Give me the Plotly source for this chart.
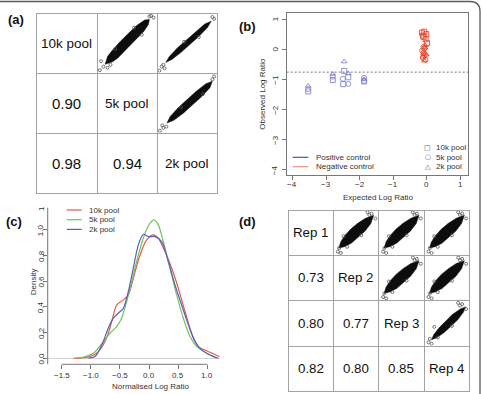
import plotly.graph_objects as go

W, H = 482, 394
FONT = "Liberation Sans, Arial, Helvetica, sans-serif"

# ---------------- data ----------------
# panel (a): pairs of pools
POOL_NAMES = ["10k pool", "5k pool", "2k pool"]
POOL_CORR_ROW = [1, 2, 2]
POOL_CORR_COL = [0, 0, 1]
POOL_CORR_VAL = [0.90, 0.98, 0.94]

# point-cloud outlines (fraction of panel range)
A01_U = [0.13, 0.17, 0.23, 0.37, 0.52, 0.67, 0.80, 0.88, 0.86, 0.78, 0.63, 0.49, 0.34, 0.25]
A01_V = [0.14, 0.27, 0.35, 0.51, 0.66, 0.80, 0.89, 0.90, 0.81, 0.69, 0.54, 0.39, 0.24, 0.18]
A02_U = [0.14, 0.20, 0.34, 0.49, 0.64, 0.80, 0.91, 0.85, 0.71, 0.56, 0.41, 0.25]
A02_V = [0.17, 0.27, 0.42, 0.555, 0.69, 0.82, 0.87, 0.765, 0.62, 0.485, 0.35, 0.225]
A12_U = [0.16, 0.215, 0.353, 0.505, 0.657, 0.82, 0.93, 0.888, 0.747, 0.595, 0.443, 0.277]
A12_V = [0.16, 0.27, 0.422, 0.56, 0.698, 0.825, 0.87, 0.757, 0.608, 0.47, 0.332, 0.208]
A01_OUT_U = [0.04, 0.06, 0.22, 0.10, 0.91, 0.95, 0.88, 0.17, 0.30, 0.62, 0.75]
A01_OUT_V = [0.04, 0.19, 0.13, 0.10, 0.96, 0.93, 0.95, 0.08, 0.40, 0.76, 0.64]
A02_OUT_U = [0.03, 0.07, 0.10, 0.93, 0.96, 0.12, 0.45, 0.70]
A02_OUT_V = [0.03, 0.10, 0.13, 0.94, 0.91, 0.07, 0.52, 0.60]
A12_OUT_U = [0.04, 0.10, 0.15, 0.96, 0.93, 0.08, 0.40, 0.77]
A12_OUT_V = [0.03, 0.08, 0.10, 0.95, 0.90, 0.12, 0.43, 0.65]

# panel (b): expected vs observed log ratio
POS_10K_X = [-3.53, -2.80, -2.46, -2.49, -2.34, -1.87]
POS_10K_Y = [-1.40, -1.02, -0.72, -1.16, -0.93, -1.07]
POS_5K_X = [-3.53, -2.80, -2.50, -2.34, -1.87, -1.87]
POS_5K_Y = [-1.32, -0.91, -0.98, -1.15, -0.95, -1.05]
POS_2K_X = [-3.53, -2.80, -2.46, -2.34, -1.87]
POS_2K_Y = [-1.22, -0.82, -0.41, -0.80, -1.00]
NEG_10K_X = [-0.15, -0.08, -0.12, -0.02, -0.10, -0.04, 0.00]
NEG_10K_Y = [0.55, 0.58, 0.45, 0.50, 0.40, 0.33, 0.20]
NEG_5K_X = [-0.14, -0.10, -0.06, -0.12, -0.08, -0.04, -0.10]
NEG_5K_Y = [-0.05, -0.12, -0.20, -0.28, 0.02, -0.35, 0.08]
NEG_2K_X = [-0.10, -0.06, -0.12, -0.02, -0.08, -0.05]
NEG_2K_Y = [-0.15, 0.05, -0.25, -0.18, -0.38, 0.12]
CUTOFF = -0.76
B_TICKS = [-4, -3, -2, -1, 0, 1]
B_LINE_LABELS = ["Positive control", "Negative control"]

# panel (c): densities of normalised log ratio
D10_X = [-1.30, -1.01, -0.87, -0.73, -0.64, -0.555, -0.44, -0.355, -0.27, -0.154, -0.04, 0.075, 0.16, 0.275, 0.39, 0.504, 0.619, 0.733, 0.848, 0.99, 1.105, 1.22]
D10_Y = [0.0, 0.013, 0.052, 0.156, 0.286, 0.415, 0.455, 0.494, 0.623, 0.805, 0.922, 0.961, 0.935, 0.831, 0.701, 0.545, 0.364, 0.195, 0.091, 0.058, 0.035, 0.01]
D5_X = [-1.19, -0.956, -0.785, -0.67, -0.555, -0.47, -0.383, -0.297, -0.183, -0.068, 0.018, 0.086, 0.16, 0.246, 0.36, 0.475, 0.59, 0.705, 0.82, 0.99, 1.163]
D5_Y = [0.0, 0.039, 0.13, 0.195, 0.247, 0.312, 0.442, 0.597, 0.805, 0.974, 1.052, 1.078, 1.039, 0.909, 0.701, 0.494, 0.312, 0.169, 0.091, 0.039, 0.0]
D2_X = [-1.04, -0.927, -0.81, -0.70, -0.613, -0.527, -0.44, -0.355, -0.27, -0.183, -0.097, -0.011, 0.103, 0.218, 0.332, 0.447, 0.561, 0.676, 0.79, 0.905, 1.048, 1.19]
D2_Y = [0.0, 0.013, 0.104, 0.234, 0.312, 0.351, 0.39, 0.52, 0.701, 0.883, 0.966, 0.948, 0.948, 0.909, 0.753, 0.571, 0.415, 0.26, 0.13, 0.065, 0.026, 0.0]
C_XTICKS = [-1.5, -1.0, -0.5, 0.0, 0.5, 1.0]
C_YTICKS = [0.0, 0.2, 0.4, 0.6, 0.8, 1.0]

# panel (d): replicates
REP_NAMES = ["Rep 1", "Rep 2", "Rep 3", "Rep 4"]
REP_CORR_ROW = [1, 2, 2, 3, 3, 3]
REP_CORR_COL = [0, 0, 1, 0, 1, 2]
REP_CORR_VAL = [0.73, 0.80, 0.77, 0.82, 0.80, 0.85]
D_U = [0.11, 0.156, 0.24, 0.382, 0.539, 0.716, 0.90, 0.836, 0.709, 0.562, 0.40, 0.256]
D_V = [0.15, 0.29, 0.425, 0.58, 0.71, 0.825, 0.89, 0.705, 0.54, 0.40, 0.265, 0.19]
D34_U = [0.16, 0.21, 0.34, 0.485, 0.635, 0.81, 0.93, 0.88, 0.755, 0.605, 0.45, 0.28]
D34_V = [0.13, 0.247, 0.411, 0.56, 0.704, 0.823, 0.87, 0.753, 0.584, 0.44, 0.301, 0.177]
D_OUT_U = [0.09, 0.16, 0.12, 0.76, 0.94, 0.85, 0.22, 0.62, 0.30, 0.80]
D_OUT_V = [0.07, 0.04, 0.15, 0.96, 0.82, 0.93, 0.42, 0.44, 0.18, 0.90]

# ---------------- styles / layout geometry ----------------
RED, GREEN, BLUE = "#e4574f", "#73c160", "#5462b8"
PT_BLUE, PT_RED = "#8286d0", "#e8452f"
CELL_LINE = "#a3a3a3"
A_COLS = [36, 97, 157, 217]
A_ROWS = [13, 73, 133, 193]
D_COLS = [288, 333.3, 378.6, 424, 469.3]
D_ROWS = [210, 255.3, 300.6, 346, 391.3]

fig = go.Figure()
layout = {}
annotations = []
shapes = []


def px(x):
    return x / W


def py(y):
    return 1 - y / H


def text(x, y, s, size=8, color="#333", angle=0, bold=False, xanchor="center"):
    if bold:
        s = "<b>" + s + "</b>"
    annotations.append(dict(x=px(x), y=py(y), xref="paper", yref="paper", text=s,
                            showarrow=False, xanchor=xanchor, yanchor="middle", textangle=angle,
                            font=dict(family=FONT, size=size, color=color)))


def tick_label(val, pos, s, axis, vertical):
    d = dict(text=s, showarrow=False, xanchor="center", yanchor="middle",
             font=dict(family=FONT, size=8, color="#333"))
    if vertical:
        d.update(x=px(pos), xref="paper", y=val, yref=axis, textangle=-90)
    else:
        d.update(x=val, xref=axis, y=py(pos), yref="paper")
    annotations.append(d)


counter = [2]


def cell_axes(x0, x1, y0, y1):
    counter[0] += 1
    n = counter[0]
    common = dict(range=[0, 1], autorange=False, showline=True, mirror=True, linecolor=CELL_LINE,
                  linewidth=1, showticklabels=False, ticks="", showgrid=False, zeroline=False,
                  fixedrange=True)
    layout[f"xaxis{n}"] = dict(domain=[px(x0 + 0.5), px(x1 - 0.5)], anchor=f"y{n}", **common)
    layout[f"yaxis{n}"] = dict(domain=[py(y1 - 0.5), py(y0 + 0.5)], anchor=f"x{n}", **common)
    # empty trace so that the panel box is drawn
    fig.add_trace(go.Scatter(x=[None], y=[None], xaxis=f"x{n}", yaxis=f"y{n}", mode="markers",
                             hoverinfo="skip", showlegend=False))
    return f"x{n}", f"y{n}"


def cloud(xa, ya, u, v, ou, ov):
    fig.add_trace(go.Scatter(x=u + u[:1], y=v + v[:1], xaxis=xa, yaxis=ya, mode="lines", fill="toself",
                             fillcolor="#0d0d0d", line=dict(color="#0d0d0d", width=0.5),
                             hoverinfo="skip", showlegend=False))
    fig.add_trace(go.Scatter(x=ou, y=ov, xaxis=xa, yaxis=ya, mode="markers",
                             marker=dict(size=3, color="rgba(0,0,0,0)", line=dict(color="#555", width=0.8)),
                             hoverinfo="skip", showlegend=False))


def pairs_panel(cols, rows, names, crow, ccol, cval, clouds, name_size, num_size):
    n = len(names)
    for r in range(n):
        for c in range(n):
            xa, ya = cell_axes(cols[c], cols[c + 1], rows[r], rows[r + 1])
            cx = (cols[c] + cols[c + 1]) / 2
            cy = (rows[r] + rows[r + 1]) / 2
            if r == c:
                text(cx, cy, names[r], size=name_size, color="#111")
            elif r > c:
                for rr, cc, vv in zip(crow, ccol, cval):
                    if rr == r and cc == c:
                        text(cx, cy, f"{vv:.2f}", size=num_size, color="#111")
            else:
                u, v, ou, ov = clouds[(r, c)]
                cloud(xa, ya, u, v, ou, ov)


# ---------- panel (a) ----------
pairs_panel(A_COLS, A_ROWS, POOL_NAMES, POOL_CORR_ROW, POOL_CORR_COL, POOL_CORR_VAL,
            {(0, 1): (A01_U, A01_V, A01_OUT_U, A01_OUT_V),
             (0, 2): (A02_U, A02_V, A02_OUT_U, A02_OUT_V),
             (1, 2): (A12_U, A12_V, A12_OUT_U, A12_OUT_V)}, 13.5, 15)

# ---------- panel (d) ----------
pairs_panel(D_COLS, D_ROWS, REP_NAMES, REP_CORR_ROW, REP_CORR_COL, REP_CORR_VAL,
            {(0, 1): (D_U, D_V, D_OUT_U, D_OUT_V), (0, 2): (D_U, D_V, D_OUT_U, D_OUT_V),
             (0, 3): (D_U, D_V, D_OUT_U, D_OUT_V), (1, 2): (D_U, D_V, D_OUT_U, D_OUT_V),
             (1, 3): (D_U, D_V, D_OUT_U, D_OUT_V), (2, 3): (D34_U, D34_V, D_OUT_U, D_OUT_V)},
            13.3, 13.3)

# ---------- panel (b) ----------
for xs, ys, sym, col in [(POS_10K_X, POS_10K_Y, "square-open", PT_BLUE),
                         (POS_5K_X, POS_5K_Y, "circle-open", PT_BLUE),
                         (POS_2K_X, POS_2K_Y, "triangle-up-open", PT_BLUE),
                         (NEG_10K_X, NEG_10K_Y, "square-open", PT_RED),
                         (NEG_5K_X, NEG_5K_Y, "circle-open", PT_RED),
                         (NEG_2K_X, NEG_2K_Y, "triangle-up-open", PT_RED)]:
    fig.add_trace(go.Scatter(x=xs, y=ys, xaxis="x", yaxis="y", mode="markers",
                             marker=dict(symbol=sym, size=5, color=col, line=dict(width=0.9, color=col)),
                             showlegend=False))

B_TXT = [str(t).replace("-", "\u2212") for t in B_TICKS]
axis_b = dict(showline=True, mirror=True, linecolor="#777", linewidth=1, ticks="outside", ticklen=4,
              tickcolor="#777", tickvals=B_TICKS, showgrid=False, zeroline=False, showticklabels=False)
layout["xaxis"] = dict(domain=[px(286.7), px(468.3)], range=[-4.17, 1.23], anchor="y", **axis_b)
layout["yaxis"] = dict(domain=[py(175), py(12.7)], range=[-4.17, 1.21], anchor="x", **axis_b)
for t, s in zip(B_TICKS, B_TXT):
    tick_label(t, 275.3, s, "y", True)
    tick_label(t, 184.3, s, "x", False)
shapes.append(dict(type="line", xref="x domain", x0=0, x1=1, yref="y", y0=CUTOFF, y1=CUTOFF,
                   line=dict(color="#777", width=1, dash="2px,2px")))
text(377.5, 197.7, "Expected Log Ratio")
text(262.7, 94, "Observed Log Ratio", angle=-90)
for i, (lab, col) in enumerate(zip(B_LINE_LABELS, ["#4a57a6", "#f2907c"])):
    yy = 157.3 + i * 9.4
    shapes.append(dict(type="line", xref="paper", yref="paper", x0=px(292.7), x1=px(308.3),
                       y0=py(yy), y1=py(yy), line=dict(color=col, width=1.2)))
    text(314, yy, lab, xanchor="left")
for i, (lab, glyph) in enumerate(zip(POOL_NAMES, ["\u25a1", "\u25cb", "\u25b3"])):
    yy = 147.7 + i * 9.5
    annotations.append(dict(x=px(427.7), y=py(yy), xref="paper", yref="paper", text=glyph,
                            showarrow=False, xanchor="center", yanchor="middle",
                            font=dict(family="DejaVu Sans", size=7, color="#555")))
    text(434, yy, lab, xanchor="left")

# ---------- panel (c) ----------
for xs, ys, col in [(D10_X, D10_Y, RED), (D5_X, D5_Y, GREEN), (D2_X, D2_Y, BLUE)]:
    fig.add_trace(go.Scatter(x=xs, y=ys, xaxis="x2", yaxis="y2", mode="lines",
                             line=dict(color=col, width=1.2, shape="spline", smoothing=0.8),
                             showlegend=False))
axis_c = dict(showline=False, ticks="outside", ticklen=4, tickcolor="#777", showgrid=False,
              showticklabels=False)
C_XTXT = [f"{t:.1f}".replace("-", "\u2212") for t in C_XTICKS]
C_YTXT = [f"{t:.1f}" for t in C_YTICKS]
layout["xaxis2"] = dict(domain=[px(47.7), px(219.5)], range=[-1.74, 1.211], anchor="y2",
                        tickvals=C_XTICKS, zeroline=False, **axis_c)
layout["yaxis2"] = dict(domain=[py(364.3), py(207.7)], range=[-0.047, 1.173], anchor="x2",
                        tickvals=C_YTICKS, zeroline=True, zerolinecolor="#d4d4d4", zerolinewidth=1,
                        **axis_c)
for t, s in zip(C_YTICKS, C_YTXT):
    tick_label(t, 41.3, s, "y2", True)
for t, s in zip(C_XTICKS, C_XTXT):
    tick_label(t, 375.3, s, "x2", False)
shapes.append(dict(type="line", xref="x2", x0=C_XTICKS[0], x1=C_XTICKS[-1], yref="y2 domain", y0=0, y1=0,
                   line=dict(color="#777", width=1)))
shapes.append(dict(type="line", xref="x2 domain", x0=0, x1=0, yref="y2 domain", y0=0, y1=1,
                   line=dict(color="#777", width=1)))
text(41.3, 208.7, "1", angle=-90)
text(150.7, 386.7, "Normalised Log Ratio")
text(33.3, 282, "Density", angle=-90)
for i, (lab, col) in enumerate(zip(POOL_NAMES, [RED, GREEN, BLUE])):
    yy = 210 + i * 9.7
    shapes.append(dict(type="line", xref="paper", yref="paper", x0=px(66.7), x1=px(81.7),
                       y0=py(yy), y1=py(yy), line=dict(color=col, width=1.2)))
    text(87.3, yy, lab, xanchor="left")

# ---------- panel labels & frame ----------
text(15.8, 19.2, "(a)", size=13, color="#111", bold=True)
text(247.5, 26.7, "(b)", size=13, color="#111", bold=True)
text(14.2, 221.2, "(c)", size=13, color="#111", bold=True)
text(247.5, 221.7, "(d)", size=13, color="#111", bold=True)
frame = (f"M 0,{py(1.5)} L {px(470)},{py(1.5)} Q {px(480)},{py(1.5)} {px(480)},{py(11.5)} "
         f"L {px(480)},{py(394)}")
shapes.append(dict(type="path", xref="paper", yref="paper", path=frame,
                   line=dict(color="#5a5a5a", width=1.3)))

fig.update_layout(width=W, height=H, margin=dict(l=0, r=0, t=0, b=0), paper_bgcolor="white",
                  plot_bgcolor="white", showlegend=False, annotations=annotations, shapes=shapes,
                  font=dict(family=FONT), **layout)
fig.write_html("out.html")
